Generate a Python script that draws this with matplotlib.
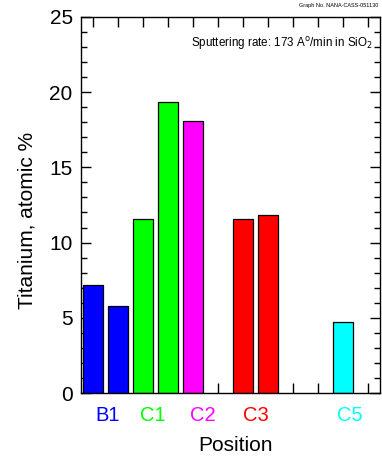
import matplotlib
matplotlib.use("Agg")
import matplotlib.pyplot as plt
from matplotlib.ticker import MultipleLocator

plt.rcParams['font.family'] = ['Liberation Sans', 'DejaVu Sans']

# bar data
positions = [1, 2, 3, 4, 5, 7, 8, 11]
titanium = [7.2, 5.8, 11.6, 19.35, 18.05, 11.55, 11.85, 4.7]
bar_colors = ['#0000ff', '#0000ff', '#00ff00', '#00ff00', '#ff00ff',
              '#ff0000', '#ff0000', '#00ffff']

# group labels under the axis
group_names = ['B1', 'C1', 'C2', 'C3', 'C5']
group_pos = [1.57, 3.4, 5.4, 7.5, 11.3]
group_colors = ['#0000ff', '#00ff00', '#ff00ff', '#ff0000', '#00ffff']

fig = plt.figure(figsize=(3.82, 4.57), dpi=100)
ax = fig.add_axes([0.212, 0.140, 0.783, 0.823])

ax.bar(positions, titanium, width=0.8, color=bar_colors,
       edgecolor='black', linewidth=0.9, zorder=2)

ax.set_xlim(0.5, 12.5)
ax.set_ylim(0, 25)

ax.yaxis.set_major_locator(MultipleLocator(5))
ax.yaxis.set_minor_locator(MultipleLocator(1))
ax.xaxis.set_major_locator(MultipleLocator(1))

ax.tick_params(axis='both', which='both', direction='in', top=True, right=True,
               width=1.0)
ax.tick_params(axis='both', which='major', length=7, labelsize=15, pad=6)
ax.tick_params(axis='y', which='minor', length=4)
ax.tick_params(axis='x', which='major', labelbottom=False)

for sp in ax.spines.values():
    sp.set_linewidth(1.0)

ax.set_ylabel('Titanium, atomic %', fontsize=15)
ax.yaxis.set_label_coords(-0.15, 0.46)
ax.set_xlabel('Position', fontsize=15)
ax.xaxis.set_label_coords(0.515, -0.113)

for name, x, c in zip(group_names, group_pos, group_colors):
    ax.text(x, -0.034, name, color=c, fontsize=14.5, ha='center', va='top',
            transform=ax.get_xaxis_transform())

ax.text(0.975, 0.953, 'Sputtering rate: 173 A$^{\\mathrm{o}}$/min in SiO$_2$',
        transform=ax.transAxes, ha='right', va='top', fontsize=8.4)
fig.text(0.99, 0.993, 'Graph No. NANA-CASS-051130', ha='right', va='top',
         fontsize=4.0)

fig.savefig('out.png', dpi=100)
